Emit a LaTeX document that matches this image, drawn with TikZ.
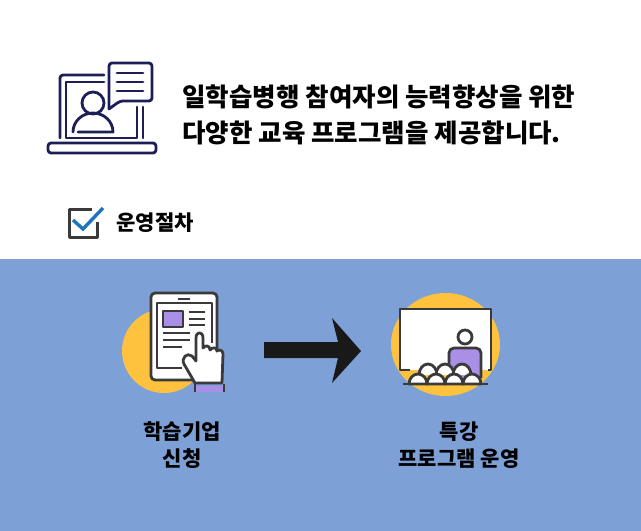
\documentclass[tikz,border=0pt]{standalone}
\usepackage{fontspec}
\usepackage{tikz}
\setmainfont{Noto Sans CJK KR Black}
\definecolor{navyline}{HTML}{1E1E56}
\definecolor{darkline}{HTML}{3A3A3A}
\definecolor{bandblue}{HTML}{7DA0D6}
\definecolor{sunyellow}{HTML}{FFC23F}
\definecolor{softpurple}{HTML}{A98FE6}
\definecolor{tickblue}{HTML}{1F74BC}
\tikzset{
	navy/.style={draw=navyline,line width=2.8pt,line cap=round,line join=round},
	dark/.style={draw=darkline,line width=2.8pt,line join=round},
	headline/.style={font=\fontsize{25.5}{36}\selectfont,text=black,anchor=west,align=left},
	caption/.style={font=\fontsize{21}{27}\selectfont,text=black,align=center}
}

\begin{document}
\begin{tikzpicture}[x=1pt,y=-1pt]

		\useasboundingbox (0,0) rectangle (641,531);
		\fill[white] (0,0) rectangle (641,531);
		\fill[bandblue] (0,259) rectangle (641,531);

		% laptop
		\draw[navy,rounded corners=3pt] (60,138) -- (60,75) -- (104,75);
		\draw[navy] (104,82) -- (66,82) -- (66,138) -- (137,138) -- (137,107);
		\draw[navy] (143,107) -- (143,138);
		\draw[navy,rounded corners=3pt] (48,143) -- (156,143) -- (156,153) -- (48,153) -- cycle;
		\draw[navy,rounded corners=3pt] (109,109) -- (109,63) -- (152,63) -- (152,101) -- (120,101) -- (109,109);
		\draw[navy] (117,73) -- (143,73);
		\draw[navy] (117,82) -- (143,82);
		\draw[navy] (117,91) -- (143,91);
		\draw[navy] (93,103) circle (11);
		\draw[navy] (73,132) arc (180:360:20 and 19) -- (78,132);

		\node[headline] (title) at (179,115) {일학습병행 참여자의 능력향상을 위한\\다양한 교육 프로그램을 제공합니다.};

		% check box
		\draw[dark] (92,209.5) -- (69.5,209.5) -- (69.5,237.5) -- (97.5,237.5) -- (97.5,222);
		\draw[tickblue,line width=3.4pt] (73,220) -- (83,229) -- (103,208);
		\node[font=\fontsize{21}{24}\selectfont,anchor=west] (steps) at (113,223) {운영절차};

		% tablet
		\fill[sunyellow] (164,351) circle (42);
		\draw[dark,fill=white,rounded corners=4pt] (151,293) rectangle (217,380);
		\draw[dark] (182,368) -- (157,368) -- (157,303) -- (212,303) -- (212,343);
		\draw[dark] (178,299) -- (190,299);
		\draw[dark,fill=softpurple] (163,311) rectangle (183,327);
		\foreach \y in {312,319,325} \draw[dark] (189,\y) -- (205,\y);
		\draw[dark] (163,333) -- (190,333);
		\draw[dark] (163,340) -- (190,340);
		\draw[dark] (163,347) -- (182,347);
		\draw[dark,fill=white] (195,383) -- (184,364) .. controls (181,358) and (187,352) .. (192,356) -- (196,361)
			-- (196,338) .. controls (196,331) and (203,331) .. (203,338) -- (203,348)
			.. controls (205,345) and (210,345) .. (210,350) .. controls (212,347) and (217,347) .. (217,351)
			.. controls (219,349) and (223,350) .. (223,354) -- (222,383) -- cycle;
		\fill[softpurple] (195,386) rectangle (224,392);
		\draw[darkline,line width=2.4pt] (195,384) -- (195,392);
		\draw[darkline,line width=2.4pt] (224,384) -- (224,392);

		\fill[black!90] (264,342) -- (338,342) -- (332,318) -- (361,351) -- (332,383) -- (338,358) -- (264,358) -- cycle;

		% lecture
		\fill[sunyellow] (445.5,344.5) ellipse (54.5 and 51.5);
		\fill[white] (400,309) rectangle (491,370);
		\draw[dark] (410,370) -- (400,370) -- (400,309) -- (491,309) -- (491,370) -- (488,370);
		\draw[dark] (465,337) circle (7);
		\draw[dark,fill=softpurple,rounded corners=5pt] (449,378) -- (449,348) -- (481,348) -- (481,378);
		\foreach \x in {428,445,462} \draw[dark,fill=white] (\x-9,375) arc (180:360:9 and 11);
		\foreach \x in {418,436,454,472} \draw[dark,fill=white] (\x-9,384) arc (180:360:9 and 10) -- cycle;
		\draw[dark] (403,384) -- (488,384);

		\node[caption] (apply) at (182,445) {학습기업\\신청};
		\node[caption] (talk) at (459,445) {특강\\프로그램 운영};

	\end{tikzpicture}
\end{document}
